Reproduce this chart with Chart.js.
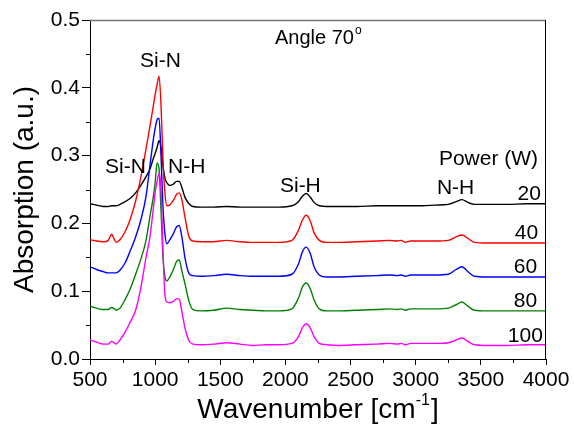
<!DOCTYPE html>
<html>
<head>
<meta charset="utf-8">
<script src="https://cdn.jsdelivr.net/npm/chart.js@4.4.1/dist/chart.umd.min.js"></script>
<style>
  html, body { margin: 0; padding: 0; background: #fff; }
  #wrap { width: 574px; height: 429px; }
</style>
</head>
<body>
<div id="wrap"><canvas id="c" width="574" height="429"></canvas></div>
<script>
// Wavenumber grid (cm-1)
const wavenumber = [500,550,600,640,665,680,700,730,770,810,
  850,890,930,960,985,1000,1015,1030,1045,1060,
  1075,1090,1110,1140,1165,1185,1205,1230,1260,1290,
  1350,1450,1550,1650,1750,1850,1950,2050,2100,2130,
  2160,2190,2220,2260,2320,2400,2550,2700,2800,2860,
  2890,2920,2960,3050,3150,3250,3310,3355,3400,3450,
  3550,3700,3850,4000];

const power20 = [.229,.227,.225,.225,.226,.226,.226,.228,.232,.237,
  .245,.256,.269,.280,.295,.303,.312,.322,.312,.285,
  .267,.260,.256,.258,.262,.262,.253,.238,.229,.225,
  .224,.224,.225,.224,.224,.224,.224,.226,.232,.240,
  .244,.239,.231,.226,.225,.225,.225,.226,.226,.226,
  .226,.226,.226,.226,.227,.228,.232,.235,.231,.228,
  .228,.228,.229,.229];

const power40 = [.176,.174,.173,.175,.184,.179,.172,.176,.188,.207,
  .233,.268,.310,.343,.372,.390,.405,.417,.375,.295,
  .245,.226,.227,.234,.243,.245,.235,.208,.180,.174,
  .173,.173,.175,.173,.172,.172,.172,.175,.190,.205,
  .212,.204,.186,.175,.172,.172,.173,.174,.175,.174,
  .175,.172,.174,.174,.174,.175,.180,.183,.178,.172,
  .171,.171,.171,.171];

const power60 = [.136,.132,.129,.127,.127,.127,.127,.131,.142,.160,
  .180,.205,.240,.285,.322,.340,.353,.355,.300,.225,
  .185,.170,.175,.185,.195,.197,.180,.148,.126,.123,
  .122,.123,.125,.123,.122,.122,.122,.125,.140,.158,
  .165,.156,.136,.124,.121,.121,.122,.123,.124,.123,
  .124,.122,.124,.124,.124,.125,.132,.136,.129,.122,
  .121,.121,.121,.121];

const power80 = [.078,.075,.073,.073,.076,.075,.072,.075,.088,.104,
  .125,.147,.175,.210,.238,.260,.289,.280,.220,.150,
  .122,.115,.120,.132,.144,.146,.130,.110,.085,.073,
  .071,.072,.075,.073,.072,.071,.071,.074,.090,.106,
  .112,.104,.087,.074,.071,.071,.072,.073,.074,.073,
  .074,.072,.074,.074,.074,.075,.080,.084,.078,.072,
  .071,.071,.071,.071];

const power100 = [.028,.025,.022,.022,.026,.025,.022,.028,.040,.055,
  .072,.105,.150,.180,.220,.245,.262,.274,.250,.160,
  .095,.084,.083,.085,.089,.088,.070,.045,.027,.022,
  .021,.022,.024,.022,.020,.021,.021,.023,.033,.046,
  .052,.046,.033,.023,.021,.020,.021,.022,.023,.022,
  .023,.021,.023,.023,.023,.024,.028,.031,.026,.021,
  .020,.020,.021,.021];

const seriesNames = ['20','40','60','80','100'];
const seriesValues = [power20, power40, power60, power80, power100];
const seriesColors = ['#000000','#ff0000','#0000ff','#008000','#ff00ff'];

// Axis ticks
const xTicksMajor = [500,1000,1500,2000,2500,3000,3500,4000];
const yTicksMajor = [0.0,0.1,0.2,0.3,0.4,0.5];

// Annotations (data coordinates)
const bandLabels = ['Si-N','Si-N','N-H','Si-H','N-H'];
const bandLabelX = [884, 615, 1099, 1958, 3163];
const bandLabelY = [0.430, 0.274, 0.274, 0.247, 0.243];
const powerLabelX = [3961, 3940, 3932, 3932, 3976];
const powerLabelY = [0.235, 0.1775, 0.127, 0.077, 0.025];

const FONT = '"Liberation Sans", Arial, Helvetica, sans-serif';

const datasets = seriesNames.map((n, i) => ({
  label: n + ' W',
  data: wavenumber.map((w, j) => ({x: w, y: seriesValues[i][j]})),
  borderColor: seriesColors[i],
  backgroundColor: seriesColors[i],
  borderWidth: 1.4,
  pointRadius: 0,
  fill: false,
  cubicInterpolationMode: 'monotone',
  order: 5 - i
}));

const decor = {
  id: 'decor',
  afterDraw(chart) {
    const ctx = chart.ctx;
    const xs = chart.scales.x, ys = chart.scales.y;
    const a = chart.chartArea;
    ctx.save();
    // top border (gray) and right border (black)
    ctx.strokeStyle = '#777';
    ctx.lineWidth = 1.3;
    ctx.beginPath(); ctx.moveTo(a.left, a.top + 0.5); ctx.lineTo(a.right, a.top + 0.5); ctx.stroke();
    ctx.strokeStyle = '#000';
    ctx.lineWidth = 1;
    ctx.beginPath(); ctx.moveTo(a.right - 0.5, a.top); ctx.lineTo(a.right - 0.5, a.bottom); ctx.stroke();
    // minor ticks
    ctx.beginPath();
    for (let k = 0; k < yTicksMajor.length - 1; k++) {
      const v = (yTicksMajor[k] + yTicksMajor[k + 1]) / 2;
      const py = Math.round(ys.getPixelForValue(v)) + 0.5;
      ctx.moveTo(a.left - 4, py); ctx.lineTo(a.left, py);
    }
    for (let k = 0; k < xTicksMajor.length - 1; k++) {
      const v = (xTicksMajor[k] + xTicksMajor[k + 1]) / 2;
      const px = Math.round(xs.getPixelForValue(v)) + 0.5;
      ctx.moveTo(px, a.bottom); ctx.lineTo(px, a.bottom + 4);
    }
    ctx.stroke();

    ctx.fillStyle = '#000';
    ctx.textBaseline = 'alphabetic';
    // band labels
    ctx.font = '21px ' + FONT;
    ctx.textAlign = 'left';
    bandLabels.forEach((t, i) => {
      ctx.fillText(t, xs.getPixelForValue(bandLabelX[i]), ys.getPixelForValue(bandLabelY[i]));
    });
    ctx.fillText('Power (W)', xs.getPixelForValue(3178), ys.getPixelForValue(0.2855));
    ctx.textAlign = 'right';
    seriesNames.forEach((t, i) => {
      ctx.fillText(t, xs.getPixelForValue(powerLabelX[i]), ys.getPixelForValue(powerLabelY[i]));
    });
    // Angle label with superscript
    ctx.textAlign = 'left';
    ctx.font = '20px ' + FONT;
    const ax = xs.getPixelForValue(1920), ay = ys.getPixelForValue(0.4645);
    ctx.fillText('Angle 70', ax, ay);
    const aw = ctx.measureText('Angle 70').width;
    ctx.font = '12px ' + FONT;
    ctx.fillText('o', ax + aw + 1, ay - 10);

    // x axis title with superscript
    ctx.font = '28px ' + FONT;
    const t1 = 'Wavenumber [cm';
    const w1 = ctx.measureText(t1).width;
    ctx.font = '16px ' + FONT;
    const sup = '-1';
    const w2 = ctx.measureText(sup).width;
    ctx.font = '28px ' + FONT;
    const w3 = ctx.measureText(']').width;
    const total = w1 + w2 + 1 + w3;
    const cx = (a.left + a.right) / 2;
    let sx = cx - total / 2;
    const by = 418;
    ctx.fillText(t1, sx, by);
    ctx.font = '16px ' + FONT;
    ctx.fillText(sup, sx + w1, by - 13);
    ctx.font = '28px ' + FONT;
    ctx.fillText(']', sx + w1 + w2 + 1, by);

    // y axis title
    ctx.save();
    ctx.translate(a.left - 57, (a.top + a.bottom) / 2);
    ctx.rotate(-Math.PI / 2);
    ctx.textAlign = 'center';
    ctx.font = '28px ' + FONT;
    ctx.fillText('Absorption (a.u.)', 0, 0);
    ctx.restore();

    ctx.restore();
  }
};

new Chart(document.getElementById('c'), {
  type: 'line',
  data: { datasets },
  plugins: [decor],
  options: {
    responsive: false,
    animation: false,
    layout: { padding: { left: 0, top: 20, right: 28, bottom: 0 } },
    plugins: { legend: { display: false }, tooltip: { enabled: false } },
    scales: {
      x: {
        type: 'linear',
        min: 500, max: 4000,
        afterFit(s) { s.height = 70; },
        afterBuildTicks(s) { s.ticks = xTicksMajor.map(v => ({value: v})); },
        ticks: { color: '#000', font: { size: 21, family: FONT }, padding: 3, maxRotation: 0,
                 callback: v => String(v) },
        grid: { drawOnChartArea: false, drawTicks: true, tickLength: 6, color: '#000', tickColor: '#000' },
        border: { display: true, color: '#000', width: 1 }
      },
      y: {
        type: 'linear',
        min: 0, max: 0.5,
        afterFit(s) { s.width = 90; },
        afterBuildTicks(s) { s.ticks = yTicksMajor.map(v => ({value: v})); },
        ticks: { color: '#000', font: { size: 21, family: FONT }, padding: 2,
                 callback: v => Number(v).toFixed(1) },
        grid: { drawOnChartArea: false, drawTicks: true, tickLength: 8, color: '#000', tickColor: '#000' },
        border: { display: true, color: '#000', width: 1 }
      }
    }
  }
});
</script>
</body>
</html>
